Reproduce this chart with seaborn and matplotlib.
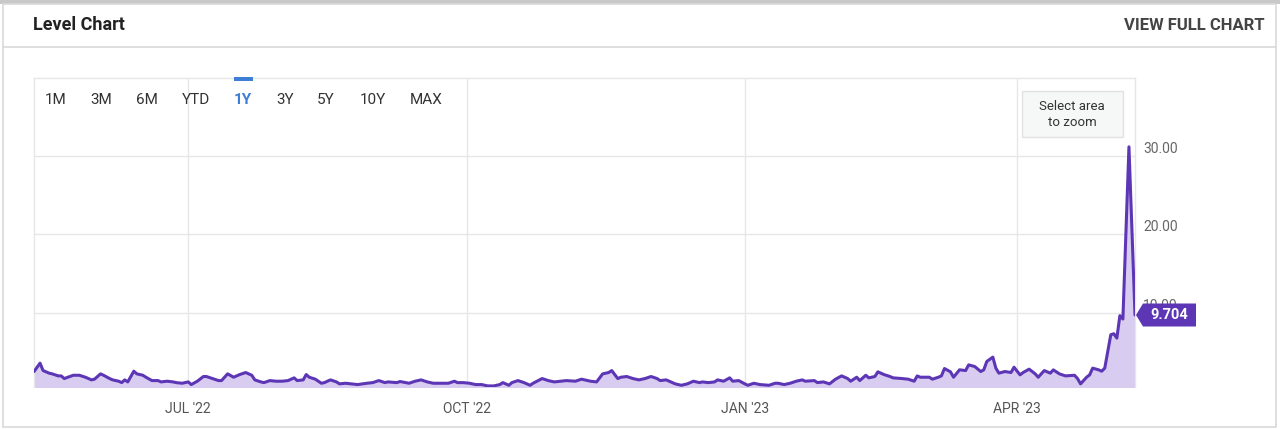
import matplotlib
matplotlib.use("Agg")
import matplotlib.pyplot as plt
import seaborn as sns
import pandas as pd
import matplotlib.dates as mdates
from matplotlib.patches import Rectangle, Polygon
from matplotlib.lines import Line2D

# ---------------- data ----------------
dates = [
    "2022-05-11", "2022-05-13", "2022-05-14", "2022-05-16", "2022-05-17", "2022-05-19", "2022-05-20",
    "2022-05-21", "2022-05-24", "2022-05-26", "2022-05-28", "2022-05-30", "2022-05-31", "2022-06-02",
    "2022-06-03", "2022-06-05", "2022-06-06", "2022-06-08", "2022-06-09", "2022-06-10", "2022-06-11",
    "2022-06-13", "2022-06-14", "2022-06-16", "2022-06-17", "2022-06-19", "2022-06-21", "2022-06-22",
    "2022-06-24", "2022-06-26", "2022-06-27", "2022-06-29", "2022-07-01", "2022-07-02", "2022-07-04",
    "2022-07-06", "2022-07-07", "2022-07-09", "2022-07-11", "2022-07-12", "2022-07-14", "2022-07-16",
    "2022-07-18", "2022-07-20", "2022-07-22", "2022-07-23", "2022-07-25", "2022-07-26", "2022-07-28",
    "2022-07-30", "2022-08-01", "2022-08-03", "2022-08-05", "2022-08-06", "2022-08-08", "2022-08-09",
    "2022-08-10", "2022-08-12", "2022-08-14", "2022-08-15", "2022-08-17", "2022-08-19", "2022-08-20",
    "2022-08-22", "2022-08-24", "2022-08-26", "2022-08-29", "2022-08-31", "2022-09-02", "2022-09-04",
    "2022-09-05", "2022-09-08", "2022-09-09", "2022-09-12", "2022-09-14", "2022-09-16", "2022-09-18",
    "2022-09-20", "2022-09-23", "2022-09-25", "2022-09-27", "2022-09-28", "2022-09-30", "2022-10-02",
    "2022-10-04", "2022-10-06", "2022-10-08", "2022-10-10", "2022-10-12", "2022-10-13", "2022-10-15",
    "2022-10-16", "2022-10-18", "2022-10-20", "2022-10-22", "2022-10-23", "2022-10-26", "2022-10-28",
    "2022-10-30", "2022-11-01", "2022-11-03", "2022-11-06", "2022-11-08", "2022-11-09", "2022-11-11",
    "2022-11-13", "2022-11-15", "2022-11-17", "2022-11-18", "2022-11-20", "2022-11-21", "2022-11-23",
    "2022-11-25", "2022-11-27", "2022-11-29", "2022-12-01", "2022-12-03", "2022-12-04", "2022-12-06",
    "2022-12-08", "2022-12-09", "2022-12-11", "2022-12-13", "2022-12-15", "2022-12-17", "2022-12-18",
    "2022-12-20", "2022-12-22", "2022-12-23", "2022-12-25", "2022-12-27", "2022-12-28", "2022-12-30",
    "2023-01-01", "2023-01-02", "2023-01-04", "2023-01-06", "2023-01-09", "2023-01-11", "2023-01-12",
    "2023-01-14", "2023-01-16", "2023-01-18", "2023-01-20", "2023-01-21", "2023-01-24", "2023-01-25",
    "2023-01-27", "2023-01-29", "2023-01-31", "2023-02-02", "2023-02-04", "2023-02-05", "2023-02-07",
    "2023-02-08", "2023-02-10", "2023-02-11", "2023-02-13", "2023-02-14", "2023-02-16", "2023-02-18",
    "2023-02-19", "2023-02-22", "2023-02-24", "2023-02-26", "2023-02-27", "2023-02-28", "2023-03-03",
    "2023-03-04", "2023-03-06", "2023-03-07", "2023-03-08", "2023-03-10", "2023-03-11", "2023-03-13",
    "2023-03-15", "2023-03-16", "2023-03-18", "2023-03-20", "2023-03-21", "2023-03-22", "2023-03-24",
    "2023-03-25", "2023-03-26", "2023-03-28", "2023-03-30", "2023-03-31", "2023-04-02", "2023-04-03",
    "2023-04-05", "2023-04-07", "2023-04-08", "2023-04-10", "2023-04-12", "2023-04-13", "2023-04-15",
    "2023-04-17", "2023-04-20", "2023-04-21", "2023-04-22", "2023-04-24", "2023-04-25", "2023-04-26",
    "2023-04-28", "2023-04-29", "2023-04-30", "2023-05-02", "2023-05-03", "2023-05-04", "2023-05-05",
    "2023-05-06", "2023-05-08", "2023-05-10",
]
values = [
    2.47, 3.55, 2.60, 2.27, 2.18, 1.92, 1.92,
    1.58, 2.00, 2.00, 1.75, 1.41, 1.50, 2.18,
    2.00, 1.58, 1.41, 1.24, 1.06, 1.41, 1.15,
    2.52, 2.18, 2.00, 1.75, 1.32, 1.32, 1.15,
    1.24, 1.15, 1.06, 0.98, 1.15, 0.81, 1.24,
    1.84, 1.84, 1.58, 1.32, 1.32, 2.18, 1.75,
    2.09, 2.35, 2.00, 1.41, 1.15, 1.06, 1.32,
    1.24, 1.24, 1.32, 1.67, 1.32, 1.41, 2.09,
    1.75, 1.50, 0.98, 1.06, 1.41, 1.15, 0.90,
    0.98, 0.90, 0.81, 0.98, 1.06, 1.32, 1.06,
    1.15, 1.06, 1.20, 0.98, 1.24, 1.41, 1.15,
    0.98, 0.98, 0.98, 1.24, 1.06, 1.06, 0.98,
    0.81, 0.81, 0.64, 0.64, 0.81, 1.06, 0.72,
    1.06, 1.32, 1.06, 0.72, 0.98, 1.58, 1.32,
    1.15, 1.24, 1.32, 1.24, 1.50, 1.41, 1.24,
    1.15, 2.18, 2.35, 2.60, 1.58, 1.75, 1.84,
    1.58, 1.41, 1.58, 1.84, 1.58, 1.32, 1.41,
    1.06, 0.90, 0.72, 0.90, 1.24, 1.06, 1.15,
    1.06, 1.15, 1.41, 1.24, 1.67, 1.24, 1.32,
    0.90, 0.72, 0.98, 0.81, 0.72, 0.98, 0.98,
    0.81, 0.98, 1.24, 1.41, 1.24, 1.32, 1.06,
    1.15, 0.90, 1.50, 1.92, 1.58, 1.24, 1.75,
    1.32, 2.00, 1.67, 1.84, 2.44, 2.09, 1.84,
    1.67, 1.58, 1.50, 1.24, 1.92, 1.75, 1.75,
    1.50, 1.75, 1.92, 2.86, 2.44, 1.75, 2.70,
    2.60, 3.33, 3.12, 2.48, 2.69, 3.76, 4.32,
    2.91, 2.27, 2.48, 2.35, 3.03, 2.05, 2.35,
    2.78, 2.18, 1.75, 2.60, 2.27, 2.69, 2.18,
    1.92, 2.00, 1.58, 0.90, 1.75, 2.05, 2.91,
    2.69, 2.52, 2.91, 7.18, 7.31, 6.75, 9.62,
    9.19, 31.20, 9.704,
]
y_ticks = [10, 20, 30]
x_ticks = ["2022-07-01", "2022-10-01", "2023-01-01", "2023-04-01"]
x_tick_labels = ["JUL '22", "OCT '22", "JAN '23", "APR '23"]
range_buttons = ["1M", "3M", "6M", "YTD", "1Y", "3Y", "5Y", "10Y", "MAX"]
active_button = "1Y"
title_text = "Level Chart"
link_text = "VIEW FULL CHART"
zoom_hint = "Select area\nto zoom"

# ---------------- style ----------------
sns.set_theme(style="white")
plt.rcParams["font.family"] = ["Roboto", "DejaVu Sans"]

PURPLE = "#5d36b6"
FILL = "#d8cdf1"
GRID = "#e6e6e6"
BORDER = "#d9d9d9"
BLUE = "#3d7fd6"

W, H = 1280, 429
fig = plt.figure(figsize=(W / 100, H / 100), dpi=100)
fig.patch.set_facecolor("white")


def fx(px):
    return px / W


def fy(py):
    return 1 - py / H


# card frame
fig.add_artist(Rectangle((0, fy(4)), 1, fy(0) - fy(4), transform=fig.transFigure,
                         fc="#c8c8c8", ec="none", zorder=0))
fig.add_artist(Rectangle((fx(3), fy(427)), fx(1276) - fx(3), fy(4) - fy(427),
                         transform=fig.transFigure, fc="white", ec=BORDER, lw=1.2, zorder=0))
fig.add_artist(Line2D([fx(3), fx(1276)], [fy(47), fy(47)], transform=fig.transFigure,
                      color=BORDER, lw=1.2))
fig.text(fx(33), fy(25), title_text, fontsize=13, fontweight="bold", color="#222222",
         ha="left", va="center")
fig.text(fx(1265), fy(25), link_text, fontsize=12, fontweight="bold", color="#444444",
         ha="right", va="center")

# ---------------- chart ----------------
ax = fig.add_axes([fx(34), fy(387), fx(1135) - fx(34), fy(78) - fy(387)])
df = pd.DataFrame({"date": pd.to_datetime(dates), "value": values})
ax.fill_between(df["date"], df["value"], 0, color=FILL, lw=0, zorder=1)
sns.lineplot(data=df, x="date", y="value", ax=ax, color=PURPLE, lw=2.2, zorder=3)
ax.set_xlim(df["date"].iloc[0], df["date"].iloc[-1])
ax.set_ylim(0.5, 40)
ax.set_xlabel("")
ax.set_ylabel("")

ax.set_yticks(y_ticks)
ax.set_yticklabels([f"{v:.2f}" for v in y_ticks])
ax.yaxis.tick_right()
ax.tick_params(axis="y", length=0, pad=6, labelsize=10, labelcolor="#666666")
for lab in ax.get_yticklabels():
    lab.set_va("bottom")

ax.set_xticks(pd.to_datetime(x_ticks))
ax.set_xticklabels(x_tick_labels)
ax.tick_params(axis="x", length=0, pad=11, labelsize=10, labelcolor="#555555")

ax.grid(True, color=GRID, lw=1)
ax.set_axisbelow(True)
for side in ["left", "right", "top"]:
    ax.spines[side].set_color(GRID)
    ax.spines[side].set_linewidth(1)
ax.spines["bottom"].set_visible(False)

# range selector buttons
btn_x = [56, 101, 147, 196, 243, 285, 326, 373, 426]
for label, bx in zip(range_buttons, btn_x):
    active = label == active_button
    fig.text(fx(bx), fy(100), label, fontsize=11, ha="center", va="center",
             color=BLUE if active else "#333333", fontweight="bold" if active else "normal",
             zorder=5)
    if active:
        fig.add_artist(Rectangle((fx(bx - 9.5), fy(81)), fx(19), fy(77) - fy(81),
                                 transform=fig.transFigure, fc=BLUE, ec="none", zorder=5))

# "Select area to zoom" box
fig.add_artist(Rectangle((fx(1022), fy(137)), fx(1123) - fx(1022), fy(91) - fy(137),
                         transform=fig.transFigure, fc="#f6f7f7", ec="#e2e2e2", lw=1, zorder=5))
fig.text(fx(1072), fy(114.5), zoom_hint, fontsize=9.5, color="#333333", ha="center",
         va="center", linespacing=1.3, zorder=6)

# last value badge
last_x = mdates.date2num(df["date"].iloc[-1])
last_y = df["value"].iloc[-1]
tx, ty = ax.transData.transform((last_x, last_y))
inv = fig.transFigure.inverted()
pts_px = [(tx + 1, ty), (tx + 8, ty + 11.5), (tx + 61, ty + 11.5),
          (tx + 61, ty - 11.5), (tx + 8, ty - 11.5)]
pts = inv.transform(pts_px)
fig.add_artist(Polygon(pts, closed=True, transform=fig.transFigure, fc=PURPLE, ec="none",
                       zorder=10))
cx, cy = inv.transform((tx + 34, ty))
fig.text(cx, cy, f"{last_y:.3f}", fontsize=10.5, fontweight="bold", color="white",
         ha="center", va="center", zorder=11)

fig.savefig("out.png", dpi=100, facecolor="white")
